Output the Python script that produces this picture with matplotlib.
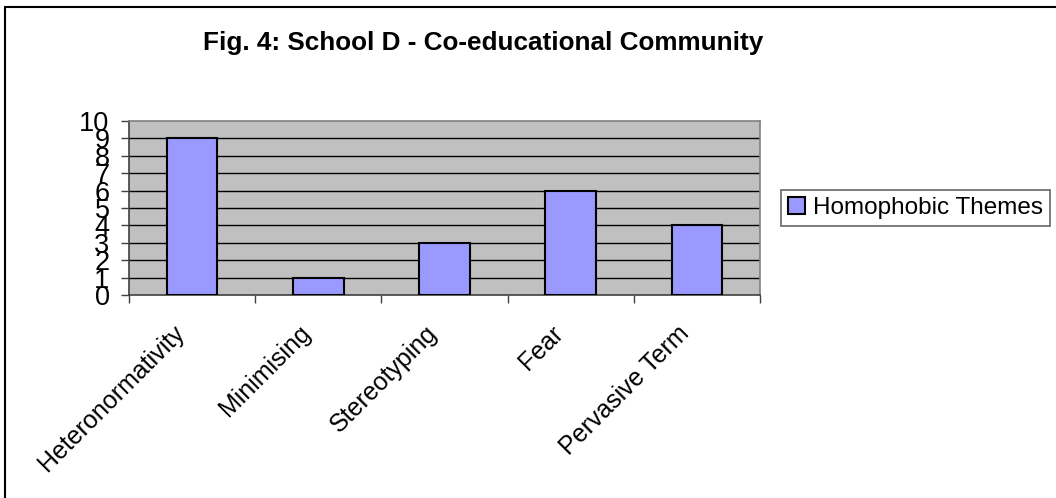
import matplotlib
matplotlib.use("Agg")
import matplotlib.pyplot as plt
from matplotlib.patches import Rectangle
import numpy as np

categories = ["Heteronormativity", "Minimising", "Stereotyping", "Fear", "Pervasive Term"]
values = [9, 1, 3, 6, 4]
series_name = "Homophobic Themes"
yticks = list(range(0, 11))
title = "Fig. 4: School D - Co-educational Community"

plt.rcParams['font.family'] = ['Liberation Sans', 'DejaVu Sans']

W, H = 1056, 498
fig = plt.figure(figsize=(W / 100, H / 100), dpi=100)
ax = fig.add_axes([129 / W, 1 - 295 / H, (760 - 129) / W, (295 - 121) / H])
ax.set_facecolor('#C0C0C0')

x = np.arange(len(categories))
ax.bar(x, values, width=0.4, color='#9999FF', edgecolor='black', linewidth=1.5,
       label=series_name, zorder=3)

ax.set_xlim(-0.5, len(categories) - 0.5)
ax.set_ylim(0, 10)
ax.set_yticks(yticks)
ax.set_yticklabels([str(t) for t in yticks], fontsize=19.5)
for t in yticks[1:-1]:
    ax.axhline(t, color='black', linewidth=1, zorder=1)

ax.set_xticks(np.arange(len(categories) + 1) - 0.5)
ax.set_xticklabels([])
ax.tick_params(axis='x', length=6, color='#404040', width=1)
ax.tick_params(axis='y', length=6, color='#404040', width=1, pad=8)
for i, c in enumerate(categories):
    ax.annotate(c, xy=(i, 0), xycoords=('data', 'axes fraction'),
                xytext=(-8, -25), textcoords='offset points',
                rotation=45, rotation_mode='anchor', ha='right', va='center',
                fontsize=18)

for s in ['left', 'bottom']:
    ax.spines[s].set_color('#404040')
    ax.spines[s].set_linewidth(1.2)
for s in ['top', 'right']:
    ax.spines[s].set_color('#808080')
    ax.spines[s].set_linewidth(1.2)

fig.text(483 / W, 1 - 43 / H, title, ha='center', va='center',
         fontsize=18.8, fontweight='bold')

leg = fig.legend(loc='center left', bbox_to_anchor=(781 / W, 1 - 208 / H),
                 fontsize=17.5, fancybox=False, frameon=True, edgecolor='#404040',
                 handlelength=0.7, handleheight=0.7, handletextpad=0.3,
                 borderpad=0.3, borderaxespad=0)
leg.get_frame().set_linewidth(1.2)

fig.add_artist(Rectangle((5 / W, -0.5), 2, 1 - 7 / H + 0.5, transform=fig.transFigure,
                         fill=False, edgecolor='black', linewidth=1.5))

fig.savefig("out.png", dpi=100)
